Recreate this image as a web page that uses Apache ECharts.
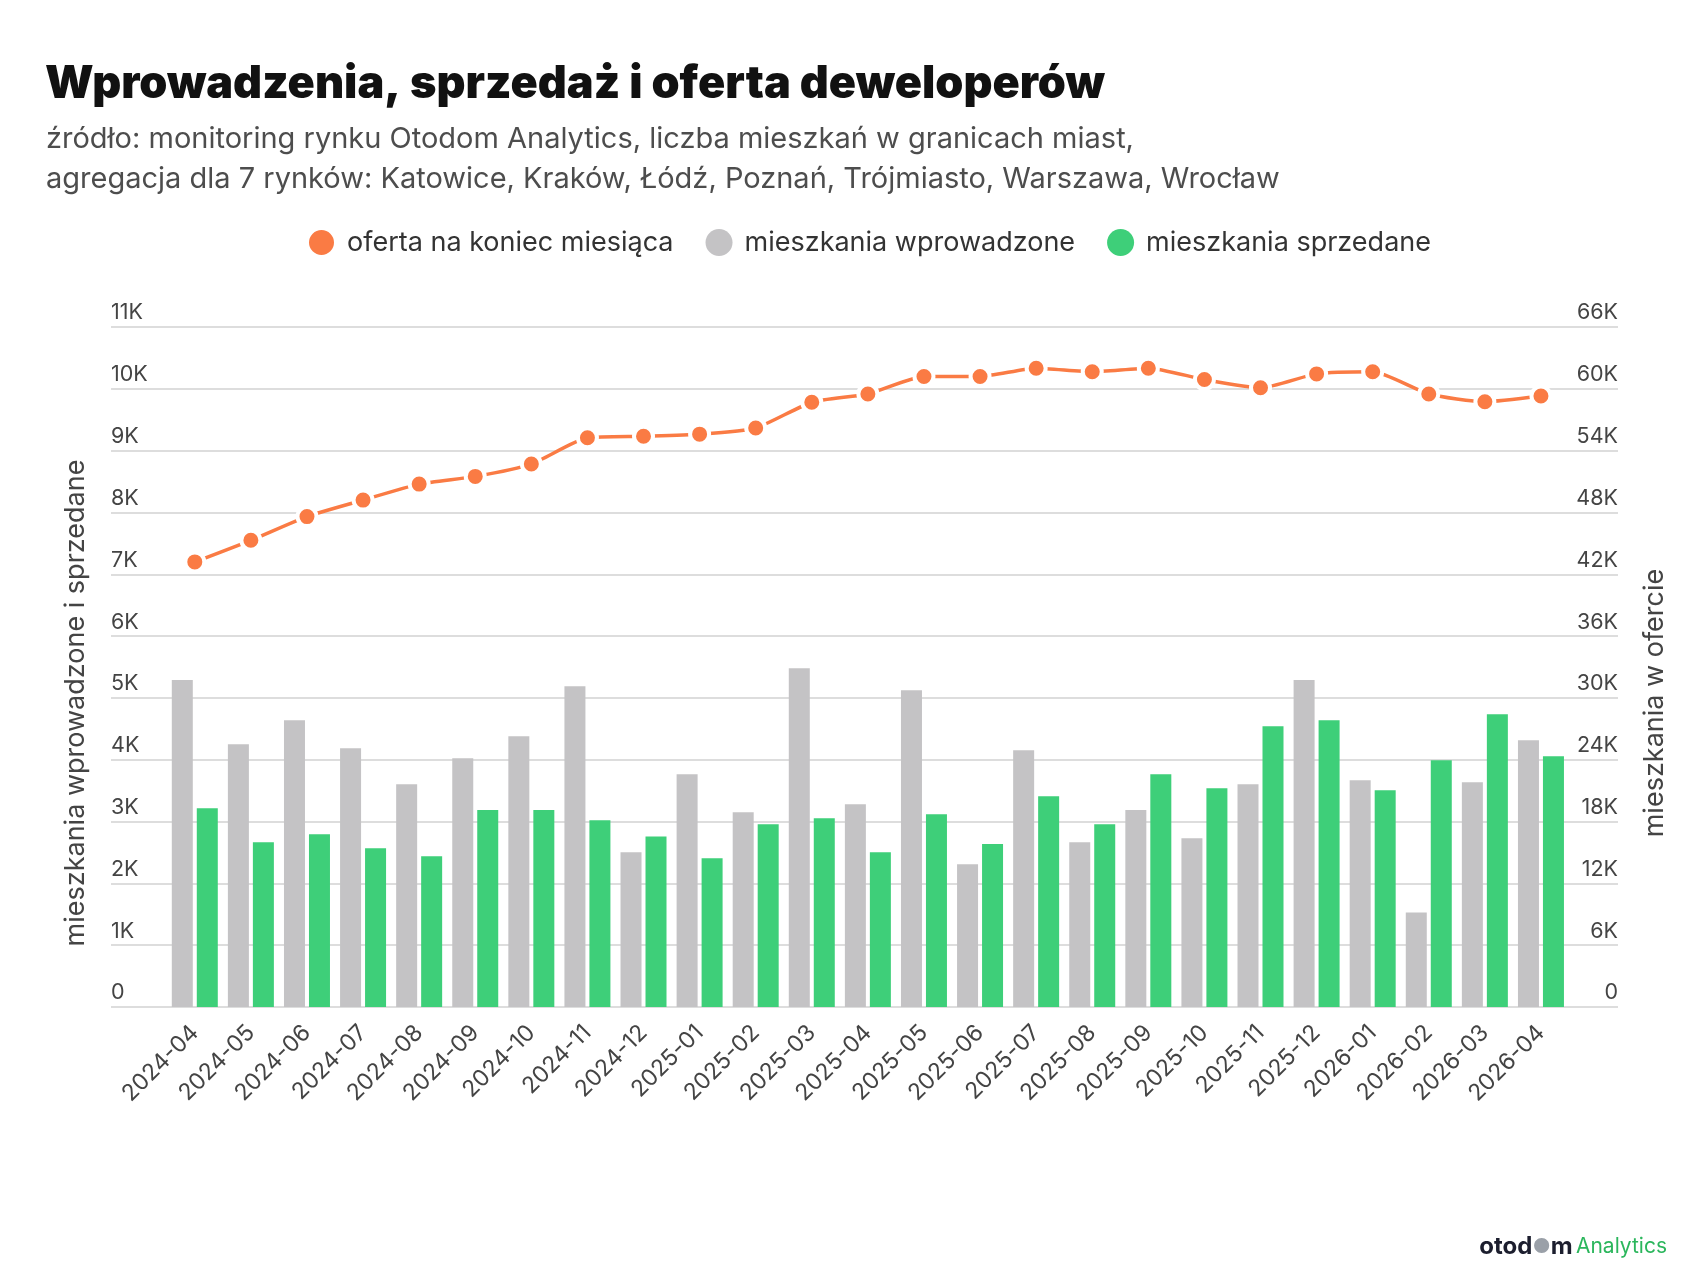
<!DOCTYPE html>
<html>
<head>
<meta charset="utf-8">
<script src="https://cdn.jsdelivr.net/npm/echarts@6/dist/echarts.min.js"></script>
<style>
html,body{margin:0;padding:0;background:#ffffff;}
#chart{width:1696px;height:1276px;}
</style>
</head>
<body>
<div id="chart"></div>
<script>
const categories = ['2024-04','2024-05','2024-06','2024-07','2024-08','2024-09','2024-10','2024-11','2024-12',
  '2025-01','2025-02','2025-03','2025-04','2025-05','2025-06','2025-07','2025-08','2025-09','2025-10','2025-11','2025-12',
  '2026-01','2026-02','2026-03','2026-04'];
const introduced = [5290,4250,4640,4185,3605,4025,4380,5190,2505,3765,3150,5480,3280,5125,2310,4155,2665,3185,2730,3605,5290,3670,1530,3635,4315];
const sold = [3215,2665,2795,2570,2440,3185,3185,3020,2760,2405,2955,3055,2505,3120,2635,3410,2955,3765,3540,4540,4640,3505,3990,4735,4055];
const offer = [43200,45300,47600,49200,50750,51500,52700,55250,55400,55600,56200,58700,59500,61200,61200,62000,61650,62000,60900,60100,61450,61650,59500,58750,59300];
const leftTicks = ['0','1K','2K','3K','4K','5K','6K','7K','8K','9K','10K','11K'];
const rightTicks = ['0','6K','12K','18K','24K','30K','36K','42K','48K','54K','60K','66K'];
const seriesNames = ['oferta na koniec miesiąca','mieszkania wprowadzone','mieszkania sprzedane'];

const FONT = 'Inter, "Noto Sans", sans-serif';
const chart = echarts.init(document.getElementById('chart'), null, {renderer:'canvas'});
const gridTop = 327, gridBottom = 269;
const option = {
  backgroundColor: '#ffffff',
  animation: false,
  textStyle: {fontFamily: FONT},
  title: [
    {text: 'Wprowadzenia, sprzedaż i oferta deweloperów', left: 40, top: 57,
     textStyle: {fontFamily: FONT, fontSize: 45, fontWeight: 900, color: '#111111'}},
    {text: 'źródło: monitoring rynku Otodom Analytics, liczba mieszkań w granicach miast,\nagregacja dla 7 rynków: Katowice, Kraków, Łódź, Poznań, Trójmiasto, Warszawa, Wrocław',
     left: 41, top: 114,
     textStyle: {fontFamily: FONT, fontSize: 29, fontWeight: 400, color: '#4d4d4d', lineHeight: 40}}
  ],
  legend: {
    top: 223, left: 302, icon: 'circle', itemWidth: 27, itemHeight: 27, itemGap: 32,
    data: seriesNames,
    textStyle: {fontFamily: FONT, fontSize: 27, color: '#333333', padding: [0,0,0,7]}
  },
  grid: [
    {left: 111, right: 78, top: gridTop, bottom: gridBottom},
    {left: 166.75, right: 127, top: gridTop, bottom: gridBottom}
  ],
  xAxis: [
    {type: 'category', gridIndex: 0, data: categories, show: false},
    {type: 'category', gridIndex: 1, data: categories, boundaryGap: true,
     axisLine: {show: false}, axisTick: {show: false},
     axisLabel: {rotate: 45, interval: 0, margin: 22, fontSize: 23, color: '#444444', fontFamily: FONT}}
  ],
  yAxis: [
    {type: 'value', gridIndex: 0, position: 'left', min: 0, max: 11000, interval: 1000,
     axisLine: {show: false}, axisTick: {show: false},
     splitLine: {lineStyle: {color: '#dddddd', width: 2}},
     axisLabel: {inside: true, margin: 0, verticalAlign: 'bottom', padding: [0,0,3,0], fontSize: 21.5, color: '#444444',
       fontFamily: FONT, formatter: (v) => leftTicks[Math.round(v/1000)]}},
    {type: 'value', gridIndex: 0, position: 'right', min: 0, max: 66000, interval: 6000,
     axisLine: {show: false}, axisTick: {show: false}, splitLine: {show: false},
     axisLabel: {inside: true, margin: 0, verticalAlign: 'bottom', padding: [0,0,3,0], fontSize: 21.5, color: '#444444',
       fontFamily: FONT, formatter: (v) => rightTicks[Math.round(v/6000)]}},
    {type: 'value', gridIndex: 1, position: 'left', min: 0, max: 11000, interval: 1000, show: false, splitLine: {show: false}},
    {type: 'value', gridIndex: 1, position: 'right', min: 0, max: 66000, interval: 6000, show: false, splitLine: {show: false}}
  ],
  series: [
    {name: seriesNames[1], type: 'bar', xAxisIndex: 1, yAxisIndex: 2, data: introduced,
     barWidth: 21, barGap: '19%', itemStyle: {color: '#c4c3c5'}, z: 2},
    {name: seriesNames[2], type: 'bar', xAxisIndex: 1, yAxisIndex: 2, data: sold,
     barWidth: 21, barGap: '19%', itemStyle: {color: '#3ecf79'}, z: 2},
    {name: seriesNames[0], type: 'line', xAxisIndex: 1, yAxisIndex: 3, data: offer,
     smooth: 0.2, symbol: 'circle', symbolSize: 19, z: 5,
     lineStyle: {color: '#fa7b44', width: 3.5},
     itemStyle: {color: '#fa7b44', borderColor: '#ffffff', borderWidth: 4}}
  ],
  color: ['#fa7b44','#c4c3c5','#3ecf79'],
  graphic: [
    {type: 'text', x: 76, y: 703, rotation: Math.PI/2,
     style: {text: 'mieszkania wprowadzone i sprzedane', fontFamily: FONT, fontSize: 27, fill: '#444444',
       textAlign: 'center', textVerticalAlign: 'middle'}},
    {type: 'text', x: 1655, y: 703, rotation: Math.PI/2,
     style: {text: 'mieszkania w ofercie', fontFamily: FONT, fontSize: 27, fill: '#444444',
       textAlign: 'center', textVerticalAlign: 'middle'}},
    {type: 'text', right: 29, top: 1235,
     style: {text: '{a|otod}{b|●}{a|m} {c|Analytics}', fontFamily: FONT,
       rich: {a: {fontSize: 24, fontWeight: 'bold', fill: '#1c1e2e', fontFamily: FONT},
              b: {fontSize: 20, fill: '#9aa0a8', fontFamily: FONT},
              c: {fontSize: 21, fill: '#2bb65c', fontFamily: FONT}}}}
  ]
};
chart.setOption(option);
</script>
</body>
</html>
